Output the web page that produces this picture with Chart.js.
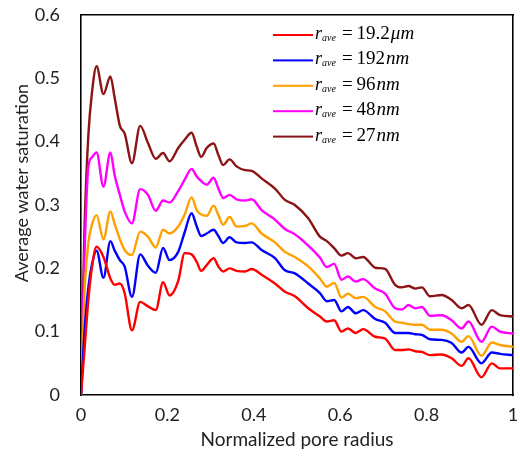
<!DOCTYPE html>
<html><head><meta charset="utf-8">
<script src="https://cdn.jsdelivr.net/npm/chart.js@4.4.1/dist/chart.umd.min.js"></script>
<style>html,body{margin:0;padding:0;background:#fff}#wrap{width:520px;height:461px;position:relative}</style>
</head><body><div id="wrap"><canvas id="c"></canvas></div>
<script>
// Normalized pore radius (x)
const radius = [0,0.008,0.017,0.025,0.036,0.052,0.068,0.078,0.09,0.101,0.118,0.137,0.155,0.173,0.19,0.205,0.225,0.24,0.256,0.268,0.278,0.291,0.307,0.318,0.329,0.344,0.36,0.38,0.395,0.418,0.449,0.472,0.495,0.526,0.553,0.569,0.586,0.603,0.618,0.636,0.653,0.681,0.704,0.727,0.743,0.758,0.774,0.789,0.808,0.835,0.858,0.881,0.897,0.927,0.951,0.97,1.0];
// Average water saturation per r_ave
const sat19_2um = [0,0.07,0.15,0.20,0.234,0.218,0.184,0.174,0.176,0.161,0.102,0.147,0.140,0.134,0.178,0.157,0.180,0.224,0.222,0.210,0.196,0.205,0.216,0.203,0.195,0.200,0.196,0.195,0.199,0.190,0.176,0.163,0.156,0.137,0.124,0.116,0.118,0.100,0.105,0.098,0.104,0.092,0.089,0.071,0.071,0.072,0.069,0.068,0.063,0.064,0.058,0.046,0.058,0.028,0.050,0.042,0.042];
const sat192nm = [0,0.10,0.17,0.205,0.228,0.185,0.243,0.228,0.213,0.203,0.155,0.222,0.204,0.193,0.232,0.213,0.226,0.257,0.287,0.266,0.251,0.255,0.261,0.251,0.240,0.249,0.241,0.240,0.241,0.229,0.216,0.197,0.192,0.176,0.161,0.148,0.150,0.132,0.139,0.129,0.134,0.120,0.114,0.098,0.098,0.098,0.096,0.095,0.088,0.087,0.082,0.067,0.076,0.050,0.067,0.065,0.063];
const sat96nm = [0,0.16,0.24,0.268,0.284,0.246,0.290,0.270,0.246,0.229,0.221,0.258,0.250,0.233,0.261,0.255,0.266,0.285,0.312,0.292,0.285,0.283,0.299,0.284,0.269,0.281,0.266,0.267,0.271,0.255,0.241,0.226,0.218,0.203,0.184,0.171,0.177,0.154,0.160,0.153,0.155,0.139,0.132,0.116,0.114,0.112,0.111,0.111,0.103,0.103,0.097,0.084,0.093,0.062,0.083,0.079,0.076];
const sat48nm = [0,0.22,0.36,0.375,0.383,0.329,0.383,0.347,0.316,0.290,0.271,0.325,0.316,0.291,0.307,0.304,0.322,0.340,0.357,0.345,0.338,0.332,0.343,0.326,0.311,0.316,0.309,0.307,0.309,0.292,0.277,0.262,0.254,0.236,0.217,0.202,0.207,0.182,0.187,0.179,0.183,0.168,0.160,0.137,0.135,0.142,0.137,0.139,0.125,0.126,0.118,0.105,0.116,0.084,0.108,0.100,0.097];
const sat27nm = [0,0.26,0.41,0.475,0.519,0.475,0.503,0.469,0.425,0.413,0.366,0.425,0.398,0.373,0.382,0.369,0.390,0.403,0.414,0.392,0.376,0.390,0.397,0.379,0.363,0.372,0.361,0.355,0.354,0.342,0.326,0.308,0.300,0.279,0.250,0.243,0.232,0.220,0.224,0.216,0.218,0.201,0.199,0.174,0.170,0.172,0.168,0.170,0.156,0.158,0.150,0.137,0.142,0.111,0.134,0.126,0.124];
// Legend values (r_ave) and units
const rAveValues = ['19.2','192','96','48','27'];
const rAveUnits = ['\u03bcm','nm','nm','nm','nm'];
const xTicks = [0,0.2,0.4,0.6,0.8,1];
const yTicks = [0,0.1,0.2,0.3,0.4,0.5,0.6];
const xTitle = 'Normalized pore radius';
const yTitle = 'Average water saturation';

const seriesValues = [sat19_2um, sat192nm, sat96nm, sat48nm, sat27nm];
const colors = ['#ff0000','#0000ff','#ffa000','#ff00ff','#8b1414'];

const seriesSets = seriesValues.map((vals,i)=>({
  label: 'r_ave = ' + rAveValues[i] + rAveUnits[i],
  data: radius.map((r,j)=>({x:r,y:vals[j]})),
  borderColor: colors[i],
  borderWidth: 2.4,
  pointRadius: 0,
  cubicInterpolationMode: 'monotone'
}));

const FONT = "Lato, 'Open Sans', sans-serif";
const frameBorder = { display: true, color: '#000', width: 1.6 };

const textPlugin = {
  id: 'texts',
  afterDraw(chart){
    const ctx = chart.ctx;
    const a = chart.chartArea;
    ctx.save();
    ctx.fillStyle = '#222';
    ctx.textAlign = 'center';
    ctx.textBaseline = 'middle';
    ctx.font = "19px " + FONT;
    ctx.fillText(xTitle, (a.left + a.right) / 2, 440);
    ctx.font = "18px " + FONT;
    ctx.save();
    ctx.translate(22, 183);
    ctx.rotate(-Math.PI / 2);
    ctx.fillText(yTitle, 0, 0);
    ctx.restore();

    ctx.textAlign = 'left';
    ctx.textBaseline = 'alphabetic';
    const x0 = 273, x1 = 313, tx = 315, y0 = 35, dy = 25.4;
    seriesSets.forEach((ds,i)=>{
      const yy = y0 + i*dy;
      ctx.fillStyle = ds.borderColor;
      ctx.fillRect(x0, yy - 1, x1 - x0, 2);
      ctx.fillStyle = '#000';
      let cx = tx;
      const base = yy + 4;
      ctx.font = "italic 18px 'Liberation Serif', serif";
      ctx.fillText('r', cx, base); cx += ctx.measureText('r').width;
      ctx.font = "italic 10px 'Liberation Serif', serif";
      ctx.fillText('ave', cx, base + 2); cx += ctx.measureText('ave').width + 6;
      ctx.font = "19px 'Liberation Serif', serif";
      ctx.fillText('=', cx, base); cx += ctx.measureText('=').width + 4;
      ctx.fillText(rAveValues[i], cx, base); cx += ctx.measureText(rAveValues[i]).width + 1;
      ctx.font = "italic 19px 'Liberation Serif', serif";
      ctx.fillText(rAveUnits[i], cx, base);
    });
    ctx.restore();
  }
};

new Chart(document.getElementById('c'), {
  type: 'line',
  data: { datasets: seriesSets },
  options: {
    responsive: true,
    maintainAspectRatio: false,
    animation: false,
    layout: { padding: { top: 15, right: 7, left: 0, bottom: 0 } },
    plugins: { legend: { display: false } },
    scales: {
      x: {
        type: 'linear', min: 0, max: 1,
        afterBuildTicks: s => { s.ticks = xTicks.map(v => ({value: v})); },
        afterFit: s => { s.height = 66; s.paddingLeft = 0; s.paddingRight = 0; },
        grid: { display: false, drawTicks: false },
        border: frameBorder,
        ticks: { color: '#222', font: { family: FONT, size: 18 }, padding: 9, maxRotation: 0, callback: v => String(v) }
      },
      y: {
        type: 'linear', min: 0, max: 0.6,
        afterBuildTicks: s => { s.ticks = yTicks.map(v => ({value: v})); },
        afterFit: s => { s.width = 81; s.paddingTop = 0; s.paddingBottom = 0; },
        grid: { display: false, drawTicks: false },
        border: frameBorder,
        ticks: { color: '#222', font: { family: FONT, size: 18 }, padding: 21, callback: v => String(v) }
      },
      xTop: {
        type: 'linear', position: 'top', min: 0, max: 1,
        afterFit: s => { s.height = 0; s.paddingLeft = 0; s.paddingRight = 0; },
        grid: { display: false, drawTicks: false },
        border: frameBorder,
        ticks: { display: false }
      },
      yRight: {
        type: 'linear', position: 'right', min: 0, max: 0.6,
        afterFit: s => { s.width = 0; s.paddingTop = 0; s.paddingBottom = 0; },
        grid: { display: false, drawTicks: false },
        border: frameBorder,
        ticks: { display: false }
      }
    }
  },
  plugins: [textPlugin]
});
</script></body></html>
